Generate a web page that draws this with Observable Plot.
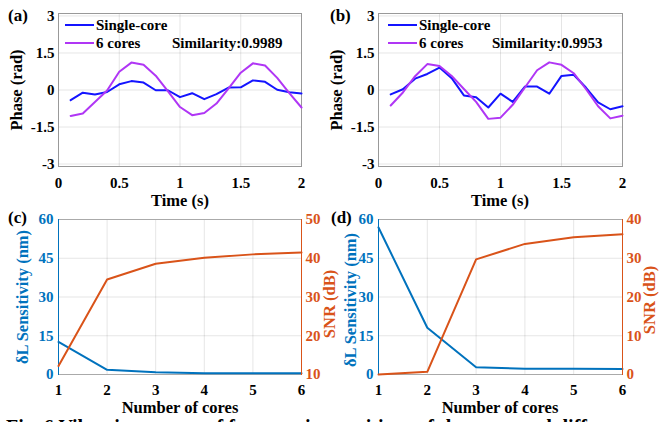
<!DOCTYPE html>
<html>
<head>
<meta charset="utf-8">
<script src="https://cdn.jsdelivr.net/npm/d3@7"></script>
<script src="https://cdn.jsdelivr.net/npm/@observablehq/plot@0.6"></script>
<style>
  html, body { margin: 0; padding: 0; background: white; }
  #root { position: relative; width: 659px; height: 422px; overflow: hidden; background: white;
          font-family: "Liberation Serif", "Times New Roman", serif; font-weight: bold; color: #000; }
  .panel { position: absolute; }
  .panel svg { overflow: visible; max-width: none; background: transparent !important; }
  .panel svg, .panel svg text { font-family: "Liberation Serif", "Times New Roman", serif !important; font-weight: bold; }
  .txt { position: absolute; white-space: nowrap; line-height: 1; }
  .ctr { position: absolute; white-space: nowrap; line-height: 1; transform: translate(-50%, -50%); }
  .rot { position: absolute; white-space: nowrap; line-height: 1; transform: translate(-50%, -50%) rotate(-90deg); }
  .leg-line { position: absolute; height: 2px; }
</style>
</head>
<body>
<div id="root"></div>
<script>
// ---------- data ----------
const time = [0.1,0.2,0.3,0.4,0.5,0.6,0.7,0.8,0.9,1.0,1.1,1.2,1.3,1.4,1.5,1.6,1.7,1.8,1.9,2.0];
const singleA = [-0.41,-0.11,-0.18,-0.08,0.23,0.36,0.30,-0.01,-0.01,-0.29,-0.13,-0.37,-0.17,0.10,0.11,0.39,0.33,0.01,-0.09,-0.14];
const sixA    = [-1.05,-0.95,-0.49,-0.02,0.74,1.11,1.02,0.58,-0.05,-0.69,-1.02,-0.93,-0.55,0.07,0.70,1.08,0.99,0.49,-0.13,-0.71];
const singleB = [-0.18,0.03,0.46,0.65,0.91,0.48,-0.22,-0.29,-0.71,-0.15,-0.48,0.14,0.14,-0.15,0.57,0.62,0.10,-0.50,-0.78,-0.66];
const sixB    = [-0.63,-0.10,0.56,1.05,0.97,0.57,0.04,-0.48,-1.17,-1.12,-0.60,0.10,0.80,1.12,1.02,0.68,0.04,-0.66,-1.15,-1.04];
const similarityA = "0.9989";
const similarityB = "0.9953";

const cores = [1,2,3,4,5,6];
const sensC = [12.6,1.8,0.9,0.5,0.5,0.5];
const snrC  = [12.2,34.5,38.6,40.1,41.0,41.5];
const sensD = [56.9,18.1,2.8,2.2,2.2,2.1];
const snrD  = [0.0,0.7,29.7,33.7,35.4,36.2];

const phaseTicks = [-3,-1.5,0,1.5,3];
const timeTicks = [0,0.5,1,1.5,2];
const coreTicks = [1,2,3,4,5,6];
const sensTicks = [0,15,30,45,60];
const snrTicksC = [10,20,30,40,50];
const snrTicksD = [0,10,20,30,40];

// ---------- styles ----------
const FONT = '"Liberation Serif", "Times New Roman", serif';
const BLUE = "#1414ff", PURPLE = "#b036f5";
const MBLUE = "#0072BD", MORANGE = "#D95319";
const GRID = "#000";
const baseStyle = 'font-family: "Liberation Serif", "Times New Roman", serif; font-weight: bold; font-size: 15px; background: transparent; overflow: visible; color: #000;';
const tickText = {fontSize: 15, fontFamily: FONT, fontWeight: "bold", label: null};

const root = document.getElementById("root");

function place(el, left, top) {
  const d = document.createElement("div");
  d.className = "panel";
  d.style.left = left + "px"; d.style.top = top + "px";
  d.appendChild(el);
  root.appendChild(d);
}
function text(str, left, top, size, color, cls) {
  const d = document.createElement("div");
  d.className = cls || "txt";
  d.textContent = str;
  d.style.left = left + "px"; d.style.top = top + "px";
  d.style.fontSize = size + "px";
  if (color) d.style.color = color;
  root.appendChild(d);
}
function legLine(x1, x2, y, color) {
  const d = document.createElement("div");
  d.className = "leg-line";
  d.style.left = x1 + "px"; d.style.top = (y - 1) + "px";
  d.style.width = (x2 - x1) + "px"; d.style.background = color;
  root.appendChild(d);
}

function phasePanel(left, top, w, ml, mr, single, six) {
  const rows = time.map((t, i) => ({t, s: single[i], m: six[i]}));
  const chart = Plot.plot({
    width: w, height: 215,
    marginLeft: ml, marginRight: mr, marginTop: 13, marginBottom: 49,
    style: baseStyle,
    x: {domain: [0, 2]},
    y: {domain: [-3.1, 3.1]},
    marks: [
      Plot.gridX(timeTicks, {stroke: GRID, strokeOpacity: 0.1}),
      Plot.gridY(phaseTicks, {stroke: GRID, strokeOpacity: 0.1}),
      Plot.frame({stroke: "#999"}),
      Plot.axisX(timeTicks, {...tickText, tickSize: 0, tickPadding: 11, tickFormat: d => String(d)}),
      Plot.axisY(phaseTicks, {...tickText, tickSize: 0, tickPadding: 4, tickFormat: d => String(d)}),
      Plot.line(rows, {x: "t", y: "s", stroke: BLUE, strokeWidth: 2}),
      Plot.line(rows, {x: "t", y: "m", stroke: PURPLE, strokeWidth: 2})
    ]
  });
  place(chart, left, top);
}

function corePanel(left, top, w, ml, mr, sens, snr, snrDomain, snrTicks) {
  const rows = cores.map((c, i) => ({c, a: sens[i], b: snr[i]}));
  const common = {width: w, height: 212, marginLeft: ml, marginRight: mr, marginTop: 9, marginBottom: 48,
    style: baseStyle};
  const left1 = Plot.plot({
    ...common,
    x: {domain: [1, 6]},
    y: {domain: [0, 60]},
    marks: [
      Plot.gridX(coreTicks, {stroke: GRID, strokeOpacity: 0.1}),
      Plot.gridY(sensTicks, {stroke: GRID, strokeOpacity: 0.1}),
      Plot.frame({stroke: "#aaa"}),
      Plot.frame({anchor: "left", stroke: MBLUE}),
      Plot.axisX(coreTicks, {...tickText, tickSize: 0, tickPadding: 10}),
      Plot.axisY(sensTicks, {...tickText, tickSize: 0, tickPadding: 5, color: MBLUE}),
      Plot.line(rows, {x: "c", y: "a", stroke: MBLUE, strokeWidth: 2})
    ]
  });
  const right1 = Plot.plot({
    ...common,
    x: {domain: [1, 6], axis: null},
    y: {domain: snrDomain},
    marks: [
      Plot.frame({anchor: "right", stroke: MORANGE}),
      Plot.axisY(snrTicks, {...tickText, anchor: "right", tickSize: 0, tickPadding: 4, color: MORANGE}),
      Plot.line(rows, {x: "c", y: "b", stroke: MORANGE, strokeWidth: 2})
    ]
  });
  place(left1, left, top);
  place(right1, left, top);
}

phasePanel(0, 0, 330, 58, 29, singleA, sixA);
phasePanel(330, 0, 329, 48, 37, singleB, sixB);
corePanel(0, 210, 330, 58, 29, sensC, snrC, [10, 50], snrTicksC);
corePanel(330, 210, 329, 48, 37, sensD, snrD, [0, 40], snrTicksD);

// axis titles
text("Phase (rad)", 17, 90, 16.5, null, "rot");
text("Phase (rad)", 337, 90, 16.5, null, "rot");
text("Time (s)", 180, 201, 16.5, null, "ctr");
text("Time (s)", 500, 201, 16.5, null, "ctr");
text("δL Sensitivity (nm)", 23, 297, 16.5, MBLUE, "rot");
text("SNR (dB)", 330, 304, 16.5, MORANGE, "rot");
text("δL Sensitivity (nm)", 351, 300, 16.5, MBLUE, "rot");
text("SNR (dB)", 650, 300, 16.5, MORANGE, "rot");
text("Number of cores", 180, 408, 16.5, null, "ctr");
text("Number of cores", 500, 408, 16.5, null, "ctr");

// legends
legLine(65, 94, 25, BLUE);  text("Single-core", 96, 18, 15);
legLine(65, 94, 43, PURPLE); text("6 cores", 96, 36, 15);
text("Similarity:" + similarityA, 172, 36, 15);
legLine(388, 417, 25, BLUE);  text("Single-core", 419, 18, 15);
legLine(388, 417, 43, PURPLE); text("6 cores", 419, 36, 15);
text("Similarity:" + similarityB, 492, 36, 15);

// panel labels
text("(a)", 8, 7, 17);
text("(b)", 330, 7, 17);
text("(c)", 8, 209, 17);
text("(d)", 331, 209, 17);

// caption (cut off at the bottom like the reference)
text("Fig. 6 Vibration curves of four sensing positions of the cores and different total lengths", 6, 417, 20);
</script>
</body>
</html>
